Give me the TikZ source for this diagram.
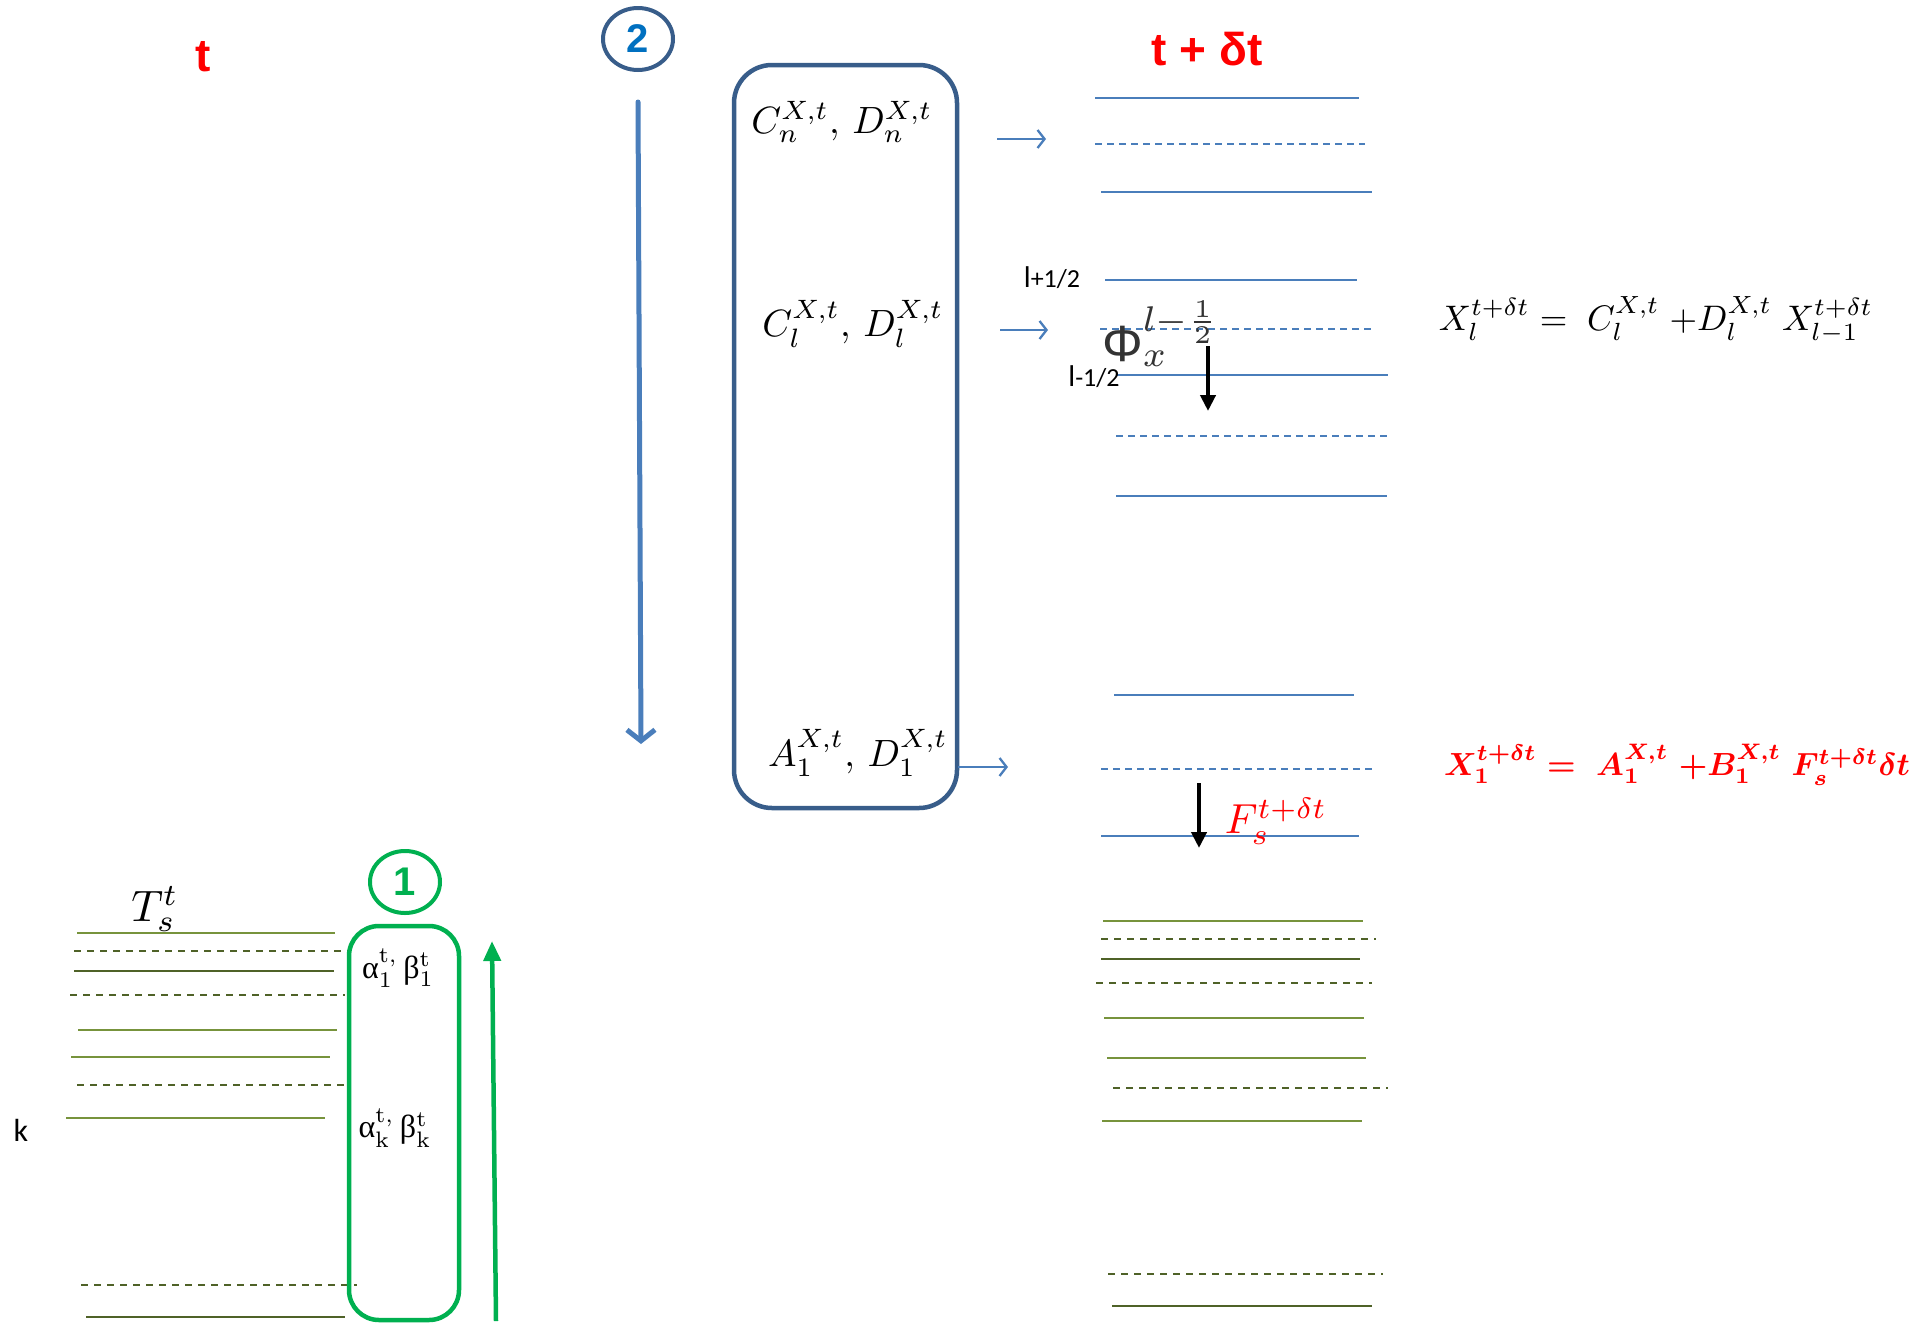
\documentclass[tikz,border=0pt]{standalone}
\usepackage{amsmath}
\usepackage{fontspec}
\setsansfont{Carlito}
\newfontfamily\arialf{Liberation Sans}
\newfontfamily\grserif{Liberation Serif}
\usetikzlibrary{arrows.meta,shapes.geometric}
\definecolor{boxblue}{HTML}{385D8A}
\definecolor{lineblue}{HTML}{4A7EBB}
\definecolor{numblue}{HTML}{0070C0}
\definecolor{brightgreen}{HTML}{00B050}
\definecolor{olivelight}{HTML}{77933C}
\definecolor{olivedark}{HTML}{4F6228}
\definecolor{phigray}{HTML}{333333}
\newcommand{\fsz}[1]{\fontsize{#1}{#1}\selectfont}
\newcommand{\boldeq}{\mathversion{bold}}
\tikzset{
  bline/.style={draw=lineblue, line width=2pt},
  bdash/.style={draw=lineblue, line width=2pt, dash pattern=on 7pt off 5pt},
  glight/.style={draw=olivelight, line width=2.6pt},
  gdark/.style={draw=olivedark, line width=2.6pt},
  gdash/.style={draw=olivedark, line width=2.4pt, dash pattern=on 7pt off 6pt},
  smallarrow/.style={draw=lineblue, line width=2.3pt, -{Straight Barb[length=7pt,width=18pt]}},
  blackarrow/.style={draw=black, line width=4.5pt, -{Triangle[length=16pt,width=15pt]}},
  numcircle/.style={ellipse, line width=4pt, minimum width=70pt, minimum height=62pt, inner sep=0pt, font=\arialf\bfseries\fsz{40}},
  mathlbl/.style={inner sep=0pt, font=\fsz{10}, scale=#1},
}
\begin{document}
\begin{tikzpicture}[x=1pt,y=-1pt]
\useasboundingbox (0,0) rectangle (1919,1323);

% titles
\node[inner sep=0pt, text=red, font=\arialf\bfseries\fsz{46}] (tnow) at (203,57) {t};
\node[inner sep=0pt, text=red, font=\arialf\bfseries\fsz{46}] (tnext) at (1207,49) {t + δt};

% circle 2 and blue downward arrow
\node[numcircle, draw=boxblue, text=numblue] (c2) at (638,39) {2};
\coordinate (a2top) at (638,102);
\coordinate (a2bot) at (641,744);
\draw[draw=lineblue, line width=5pt, line cap=round, -{Straight Barb[length=11pt,width=28pt]}] (a2top) -- (a2bot);

% blue rounded box
\node[draw=boxblue, line width=4.5pt, rounded corners=38pt, minimum width=223pt, minimum height=743pt, inner sep=0pt] (bbox) at (845.5,436.5) {};
\node[mathlbl=3.8] (cn) at (842,122) {$C_n^{X,t},\, D_n^{X,t}$};
\node[mathlbl=3.8] (cl) at (853,324) {$C_l^{X,t},\, D_l^{X,t}$};
\node[mathlbl=3.8] (a1) at (858,753) {$A_1^{X,t},\, D_1^{X,t}$};

% small blue arrows
\coordinate (s1a) at (997,139); \coordinate (s1b) at (1046,139);
\coordinate (s2a) at (1000,330); \coordinate (s2b) at (1048,330);
\coordinate (s3a) at (958,767); \coordinate (s3b) at (1008,767);
\draw[smallarrow] (s1a) -- (s1b);
\draw[smallarrow] (s2a) -- (s2b);
\draw[smallarrow] (s3a) -- (s3b);

% right blue layers
\draw[bline] (1095,98) -- (1359,98);
\draw[bdash] (1095,144) -- (1365,144);
\draw[bline] (1101,192) -- (1372,192);
\draw[bline] (1105,280) -- (1357,280);
\draw[bdash] (1100,329) -- (1373,329);
\draw[bline] (1117,375) -- (1388,375);
\draw[bdash] (1116,436) -- (1387,436);
\draw[bline] (1116,496) -- (1387,496);
\draw[bline] (1114,695) -- (1354,695);
\draw[bdash] (1101,769) -- (1373,769);
\draw[bline] (1101,836) -- (1359,836);

% layer labels
\node[inner sep=0pt, font=\sffamily\fsz{30}] (lp) at (1052,278) {l{\fsz{26}+1/2}};
\node[inner sep=0pt, font=\sffamily\fsz{30}] (lm) at (1094,377) {l{\fsz{26}-1/2}};
\node[mathlbl=5.1, text=phigray] (phi) at (1161,334) {{\arialf Φ}$_{x}^{l-\frac{1}{2}}$};

% black flux arrows
\coordinate (b1a) at (1208,346); \coordinate (b1b) at (1208,411);
\draw[blackarrow] (b1a) -- (b1b);
\coordinate (b2a) at (1199,783); \coordinate (b2b) at (1199,848);
\draw[blackarrow] (b2a) -- (b2b);
\node[mathlbl=4.2, text=red] (fs) at (1276,821) {$F_s^{t+\delta t}$};

% equations
\node[mathlbl=3.55] (eq1) at (1656,320) {$X_l^{t+\delta t} = \; C_l^{X,t}\;{+}D_l^{X,t}\; X_{l-1}^{t+\delta t}$};
\node[mathlbl=3.2, text=red, font=\fsz{10}\boldeq] (eq2) at (1677,765) {$X_1^{t+\delta t} = \; A_1^{X,t}\;{+}B_1^{X,t}\; F_s^{t+\delta t}\delta t$};

% left green section
\node[mathlbl=4.4] (ts) at (155,909) {$T_s^t$};
\node[inner sep=0pt, font=\sffamily\fsz{32}] (k) at (21,1130) {k};
\draw[glight] (77,933) -- (335,933);
\draw[gdash] (74,951) -- (348,951);
\draw[gdark] (74,971) -- (334,971);
\draw[gdash] (70,995) -- (345,995);
\draw[glight] (78,1030) -- (337,1030);
\draw[glight] (71,1057) -- (330,1057);
\draw[gdash] (77,1085) -- (347,1085);
\draw[glight] (66,1118) -- (325,1118);
\draw[gdash] (81,1285) -- (357,1285);
\draw[gdark] (86,1317) -- (345,1317);

\node[numcircle, draw=brightgreen, text=brightgreen] (c1) at (405,882) {1};
\node[draw=brightgreen, line width=4.5pt, rounded corners=30pt, minimum width=110pt, minimum height=394pt, inner sep=0pt] (gbox) at (404,1123) {};
\node[mathlbl=3.2] (ab1) at (398,968) {{\grserif α}$_{\mathrm{1}}^{\mathrm{t},}$\,{\grserif β}$_{\mathrm{1}}^{\mathrm{t}}$};
\node[mathlbl=3.2] (abk) at (395,1128) {{\grserif α}$_{\mathrm{k}}^{\mathrm{t},}$\,{\grserif β}$_{\mathrm{k}}^{\mathrm{t}}$};
\coordinate (g1a) at (496,1321);
\coordinate (g1b) at (492,941);
\draw[draw=brightgreen, line width=4.5pt, -{Triangle[length=20pt,width=17pt]}] (g1a) -- (g1b);

% right green layers
\draw[glight] (1103,921) -- (1363,921);
\draw[gdash] (1101,939) -- (1376,939);
\draw[gdark] (1101,959) -- (1360,959);
\draw[gdash] (1096,983) -- (1372,983);
\draw[glight] (1104,1018) -- (1364,1018);
\draw[glight] (1107,1058) -- (1366,1058);
\draw[gdash] (1113,1088) -- (1388,1088);
\draw[glight] (1102,1121) -- (1362,1121);
\draw[gdash] (1108,1274) -- (1383,1274);
\draw[gdark] (1112,1306) -- (1372,1306);
\end{tikzpicture}
\end{document}
